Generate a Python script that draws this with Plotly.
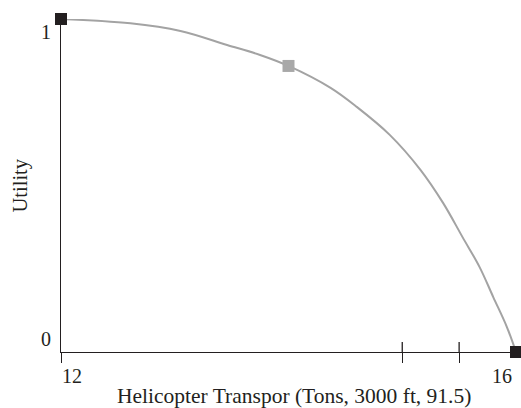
import plotly.graph_objects as go

# utility curve
tons = [12.0, 12.61, 13.05, 13.46, 13.75, 14.0, 14.37, 14.6, 14.89, 15.16,
        15.36, 15.53, 15.68, 15.8, 15.92, 16.0]
utility = [1.0, 0.987, 0.964, 0.922, 0.892, 0.859, 0.793, 0.736, 0.652, 0.547,
           0.447, 0.345, 0.255, 0.165, 0.075, 0.0]

end_x = [12.0, 16.0]
end_y = [1.0, 0.0]
mid_x = [14.0]
mid_y = [0.859]

x_ticks = [12, 15, 15.5]
cross_ticks = [15, 15.5]

font = "Liberation Serif, Times New Roman, serif"
ink = "#231f20"

fig = go.Figure()

fig.add_trace(go.Scatter(
    x=tons, y=utility, mode="lines",
    line=dict(color="#a3a3a3", width=2, shape="spline", smoothing=1.0),
    hoverinfo="skip", cliponaxis=False
))
fig.add_trace(go.Scatter(
    x=mid_x, y=mid_y, mode="markers",
    marker=dict(symbol="square", size=12, color="#a8a8a8"),
    cliponaxis=False
))
fig.add_trace(go.Scatter(
    x=end_x, y=end_y, mode="markers",
    marker=dict(symbol="square", size=12, color=ink),
    cliponaxis=False
))

# ticks at 15 and 15.5 cross the axis line: upper half drawn as shapes
for t in cross_ticks:
    fig.add_shape(type="line", xref="x", yref="y", x0=t, x1=t,
                  ysizemode="pixel", yanchor=0, y0=0, y1=10,
                  line=dict(color=ink, width=1.3))

# tick labels sit inward from the axis ends
fig.add_annotation(x=12, y=0, xref="x", yref="y", text="12", showarrow=False,
                   xanchor="left", yanchor="top", yshift=-11, xshift=-1,
                   font=dict(size=20, color=ink, family=font))
fig.add_annotation(x=16, y=0, xref="x", yref="y", text="16", showarrow=False,
                   xanchor="right", yanchor="top", yshift=-11, xshift=-2,
                   font=dict(size=20, color=ink, family=font))
fig.add_annotation(x=0, y=1, xref="paper", yref="y", text="1", showarrow=False,
                   xanchor="center", yanchor="middle", xshift=-15, yshift=-13,
                   font=dict(size=20, color=ink, family=font))
fig.add_annotation(x=0, y=0, xref="paper", yref="y", text="0", showarrow=False,
                   xanchor="center", yanchor="middle", xshift=-15, yshift=13,
                   font=dict(size=20, color=ink, family=font))
fig.add_annotation(x=0.5, y=0, xref="paper", yref="paper",
                   text="Helicopter Transpor (Tons, 3000 ft, 91.5)", showarrow=False,
                   xanchor="center", yanchor="top", yshift=-30, xshift=5,
                   font=dict(size=21.5, color=ink, family=font))
fig.add_annotation(x=0, y=0.5, xref="paper", yref="paper", text="Utility",
                   showarrow=False, textangle=-90, xanchor="center", yanchor="middle",
                   xshift=-41, font=dict(size=20.5, color=ink, family=font))

fig.update_xaxes(range=[12, 16], showgrid=False, zeroline=False,
                 showline=True, linecolor=ink, linewidth=1.3,
                 tickvals=x_ticks, ticks="outside", ticklen=10, tickwidth=1.3,
                 tickcolor=ink, showticklabels=False)
fig.update_yaxes(range=[0, 1], showgrid=False, zeroline=False,
                 showline=True, linecolor=ink, linewidth=1.3,
                 ticks="", showticklabels=False)

fig.update_layout(
    width=521, height=408,
    margin=dict(l=61, r=5, t=19, b=56),
    plot_bgcolor="white", paper_bgcolor="white",
    showlegend=False,
    font=dict(family=font, color=ink)
)

# the page's default body margin would push the figure off the window
fig.write_html("out.html", config={"displayModeBar": False},
               post_script="document.body.style.margin='0px';")
